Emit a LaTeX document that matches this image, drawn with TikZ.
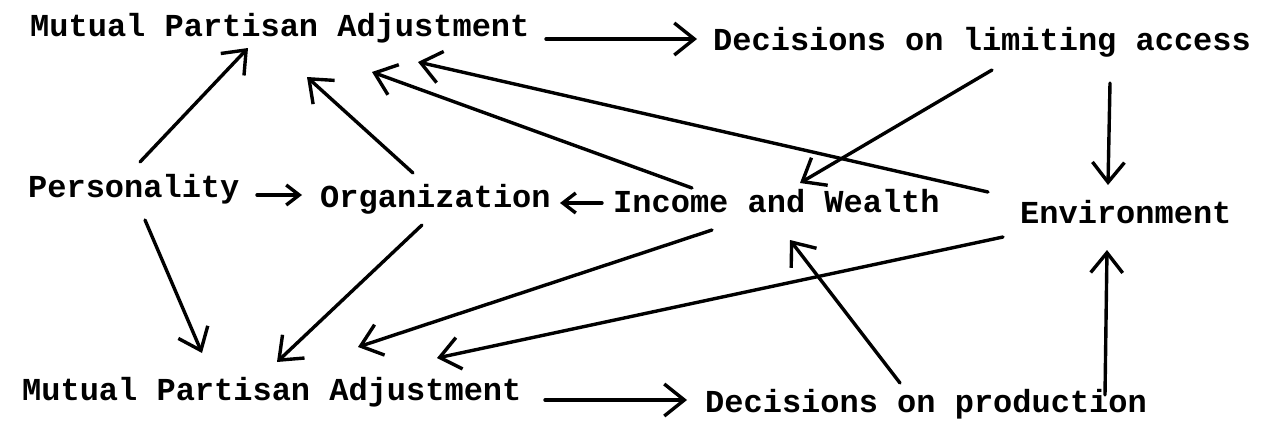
\documentclass[tikz,border=0pt]{standalone}
\usepackage{fontspec}
\setmonofont{Liberation Mono}
\usetikzlibrary{arrows.meta,calc}
\tikzset{
  lbl/.style={inner sep=0pt, anchor=base west, font=\fontsize{32}{32}\selectfont\ttfamily\bfseries},
  arr/.style={line width=3.4pt, line cap=round, line join=round, -{Straight Barb[length=20pt,width=32pt]}},
  sarr/.style={line width=3.4pt, line cap=round, line join=round, -{Straight Barb[length=13pt,width=20pt]}}
}
\begin{document}
\begin{tikzpicture}[x=1pt,y=-1pt]
\useasboundingbox (0,0) rectangle (1275,431);
\node[lbl] (mpaT) at (30,36) {Mutual Partisan Adjustment};
\node[lbl] (dla) at (713,50) {Decisions on limiting access};
\node[lbl] (pers) at (28,197) {Personality};
\node[lbl] (org) at (320,207) {Organization};
\node[lbl] (inc) at (613,212) {Income and Wealth};
\node[lbl] (env) at (1020,223) {Environment};
\node[lbl] (mpaB) at (22,400) {Mutual Partisan Adjustment};
\node[lbl] (dprod) at (705,412) {Decisions on production};
% top horizontal
\draw[arr] ($(mpaT.base west)+(516,3)$) -- ($(dla.base west)+(-16,-11)$);
% into top MPA
\draw[arr] ($(pers.base west)+(112,-35)$) -- ($(mpaT.base west)+(218,12)$);
\draw[arr] ($(org.base west)+(93,-34)$) -- ($(mpaT.base west)+(277,41)$);
\draw[arr] ($(inc.base west)+(79,-24)$) -- ($(mpaT.base west)+(342,36)$);
\draw[arr] ($(env.base west)+(-32,-31)$) -- ($(mpaT.base west)+(388,26)$);
% from decisions on limiting access
\draw[arr] ($(dla.base west)+(279,20)$) -- ($(inc.base west)+(187,-29)$);
\draw[arr] ($(dla.base west)+(397,33)$) -- ($(env.base west)+(88,-38)$);
% middle row
\draw[sarr] ($(pers.base west)+(229,-2)$) -- ($(org.base west)+(-18,-12)$);
\draw[sarr] ($(inc.base west)+(-11,-9)$) -- ($(org.base west)+(240,-4)$);
% into bottom MPA
\draw[arr] ($(pers.base west)+(117,23)$) -- ($(mpaB.base west)+(180,-47)$);
\draw[arr] ($(org.base west)+(102,18)$) -- ($(mpaB.base west)+(255,-38)$);
\draw[arr] ($(inc.base west)+(99,18)$) -- ($(mpaB.base west)+(336,-53)$);
\draw[arr] ($(env.base west)+(-17,14)$) -- ($(mpaB.base west)+(415,-42)$);
% bottom horizontal
\draw[arr] ($(mpaB.base west)+(523,0)$) -- ($(dprod.base west)+(-18,-12)$);
% from decisions on production
\draw[arr] ($(dprod.base west)+(195,-29)$) -- ($(inc.base west)+(177,28)$);
\draw[arr] ($(dprod.base west)+(400,-17)$) -- ($(env.base west)+(87,27)$);
\end{tikzpicture}
\end{document}
